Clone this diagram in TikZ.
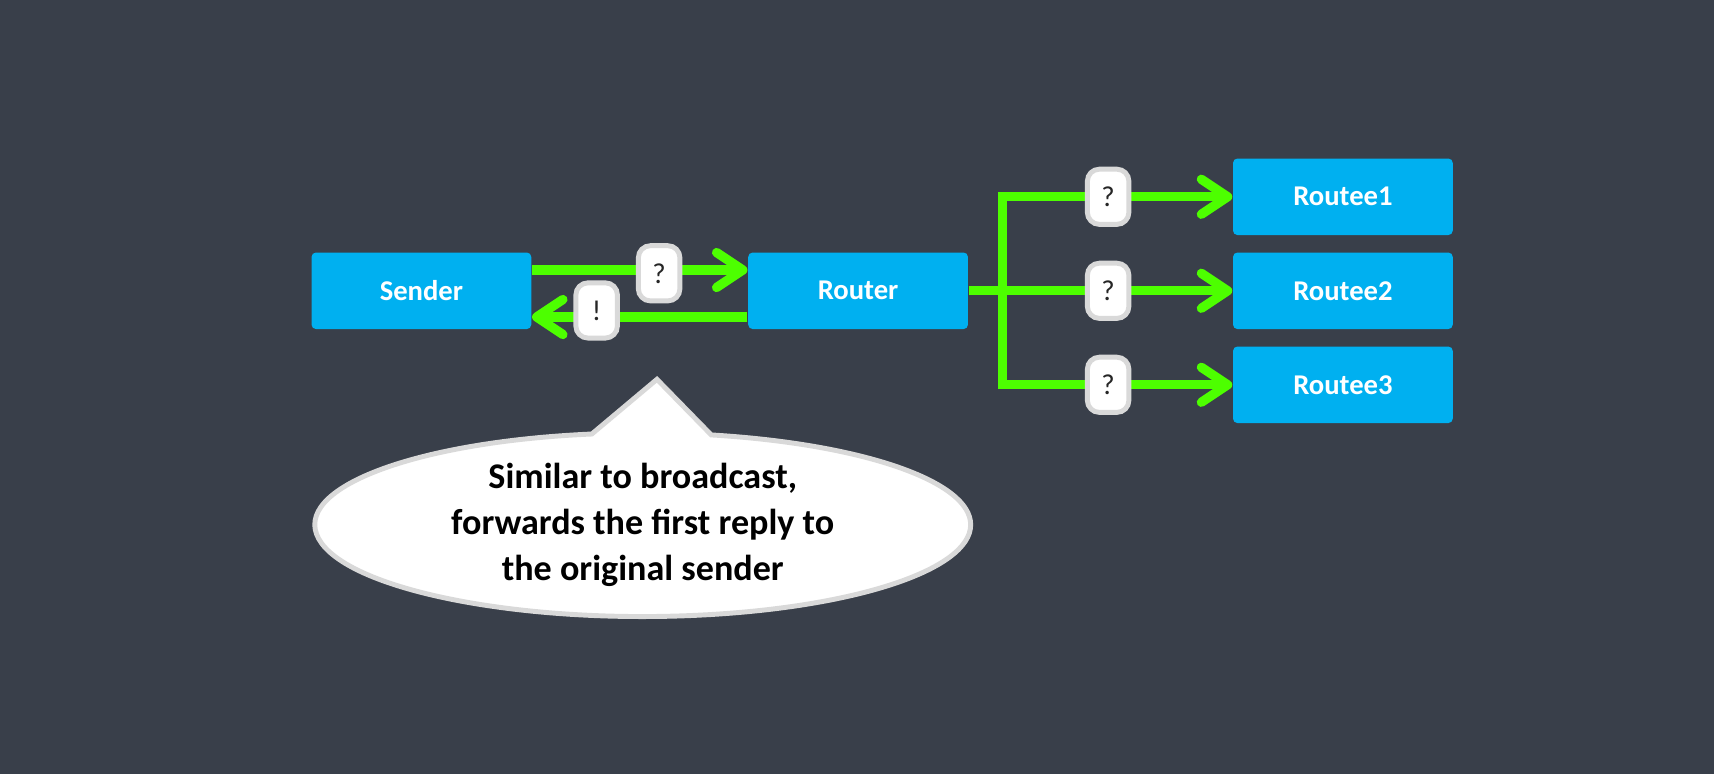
\documentclass[tikz,border=0pt]{standalone}
\usepackage{fontspec}
\setmainfont{Carlito}
\usepackage{xcolor}
\usepackage{tikz}
\usetikzlibrary{positioning, arrows.meta, shapes.callouts}
\definecolor{slate}{HTML}{393F4A}
\definecolor{boxblue}{HTML}{00B0F0}
\definecolor{flowgreen}{HTML}{4DFF00}
\definecolor{msgrim}{HTML}{D9D9D9}
\definecolor{msgtext}{HTML}{262626}
\begin{document}
\begin{tikzpicture}[x=0.1mm, y=-0.1mm]
	\tikzstyle{actor}=[rectangle, rounded corners=0.4mm, fill=boxblue, text=white, font=\fontsize{7.45}{9}\selectfont\bfseries, minimum width=20.1mm, minimum height=7mm, inner sep=0pt]
	\tikzstyle{msg}=[rectangle, rounded corners=1.1mm, draw=msgrim, line width=0.45mm, fill=white, text=msgtext, font=\fontsize{7.5}{9}\selectfont, minimum width=3.8mm, minimum height=5.05mm, inner sep=0pt]
	\tikzstyle{trunk}=[flowgreen, line width=0.85mm]
	\tikzstyle{flow}=[trunk, -{Straight Barb[length=2.4mm, width=3.2mm, round]}]
	\tikzstyle{bubble}=[ellipse callout, draw=msgrim, line width=0.45mm, fill=white, minimum width=60mm, minimum height=16.8mm, callout pointer arc=21, inner sep=0pt, align=center, font=\fontsize{9.4}{12}\selectfont\bfseries]
	% background
	\fill[slate] (0,0) rectangle (1568,708);
	\useasboundingbox (0,0) rectangle (1568,708);
	% actors
	\node[actor](sender) at (385.5,266) {Sender};
	\node[actor](router) at (785,266) {Router};
	\node[actor](routee1) at (1228.5,180) {Routee1};
	\node[actor](routee2) at (1228.5,266) {Routee2};
	\node[actor](routee3) at (1228.5,352) {Routee3};
	\coordinate (split) at (917,266);
	% ask and reply
	\path[flow]
		([yshift=1.9mm]sender.east) edge node[msg, pos=0.59, yshift=-0.3mm] {?} ([yshift=1.9mm]router.west)
		([yshift=-2.4mm]router.west) edge node[msg, pos=0.7, yshift=0.6mm] {!} ([yshift=-2.4mm]sender.east);
	% broadcast to the routees
	\draw[trunk] (router.east) -- (split);
	\draw[flow] (split) |- node[msg, pos=0.73] {?} (routee1.west);
	\draw[flow] (split) -- node[msg, pos=0.46] {?} (routee2.west);
	\draw[flow] (split) |- node[msg, pos=0.73] {?} (routee3.west);
	% note
	\node[bubble, callout absolute pointer={(601,347)}](note) at (588,480) {Similar to broadcast,\\forwards the first reply to\\the original sender};
\end{tikzpicture}
\end{document}
